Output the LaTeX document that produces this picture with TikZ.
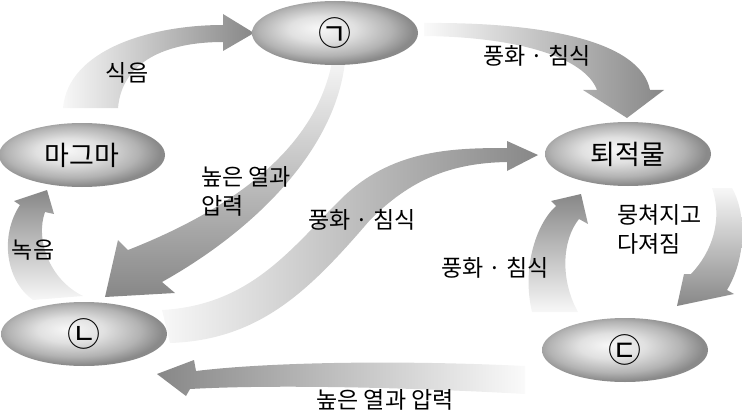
\documentclass[tikz,border=0pt]{standalone}
\usepackage{fontspec}
\setmainfont{Noto Sans CJK KR}
\usepackage{tikz}
\usetikzlibrary{shapes.geometric}
\pgfdeclareradialshading{rockshade}{\pgfpoint{-5bp}{4bp}}{%
  color(0bp)=(black!3); color(10bp)=(black!12); color(20bp)=(black!30); color(26bp)=(black!46); color(50bp)=(black!46)}

\begin{document}
\begin{tikzpicture}[x=1pt,y=-1pt,
    rock/.style={ellipse, shade, shading=rockshade, minimum width=166pt, minimum height=64pt, inner sep=0pt, font=\fontsize{27}{32}\selectfont},
    mark circ/.style={font=\fontsize{33}{36}\selectfont},
    txt/.style={inner sep=0pt, font=\fontsize{23}{29}\selectfont}]
    \useasboundingbox (0,0) rectangle (742,420);
    % arrows
    \shade[left color=black!3, right color=black!47] (63,108) .. controls (68,50) and (150,25) .. (223,25) -- (223,14) -- (254,33) -- (223,51) -- (223,42) .. controls (165,42) and (122,62) .. (118,108) -- cycle;
    \shade[left color=black!2, right color=black!47] (424,23) .. controls (540,22) and (640,40) .. (650,90) -- (664,90) -- (627,118) -- (583,90) -- (597,90) .. controls (585,58) and (520,37) .. (424,36) -- cycle;
    \shade[top color=black!4, bottom color=black!47] (332,62) .. controls (315,150) and (230,210) .. (128,250) -- (118,240) -- (105,297) -- (175,293) -- (162,282) .. controls (255,230) and (335,150) .. (345,62) -- cycle;
    \shade[left color=black!3, right color=black!47] (162,310) .. controls (250,305) and (290,250) .. (340,200) .. controls (390,150) and (450,148) .. (507,148) -- (507,141) -- (538,155) -- (507,171) -- (507,162) .. controls (450,163) and (410,180) .. (370,220) .. controls (310,290) and (260,340) .. (170,343) -- cycle;
    \shade[top color=black!3, bottom color=black!47] (712,188) -- (732,188) .. controls (745,210) and (748,255) .. (727,290) -- (734,294) -- (677,306) -- (684,274) -- (691,274) .. controls (712,252) and (723,220) .. (712,188) -- cycle;
    \shade[bottom color=black!3, top color=black!47] (532,312) .. controls (522,270) and (535,225) .. (556,206) -- (551,201) -- (581,194) -- (588,224) -- (579,219) .. controls (562,240) and (560,280) .. (578,312) -- cycle;
    \shade[bottom color=black!3, top color=black!47] (33,300) .. controls (5,280) and (0,235) .. (20,205) -- (14,201) -- (47,190) -- (54,214) -- (45,212) .. controls (35,240) and (50,280) .. (83,296) -- cycle;
    \shade[left color=black!47, right color=black!2] (525,366) .. controls (400,360) and (270,362) .. (196,371) -- (194,360) -- (157,374) -- (186,396) -- (190,389) .. controls (280,384) and (420,388) .. (525,394) -- cycle;
    % rocks
    \node[rock, mark circ] (rockA) at (335,33) {㉠};
    \node[rock] (magma) at (82,155) {마그마};
    \node[rock] (sed) at (628,154) {퇴적물};
    \node[rock, mark circ] (rockB) at (84,334) {㉡};
    \node[rock, mark circ] (rockC) at (625,350) {㉢};
    % labels
    \node[txt] (melt1) at (127,73) {식음};
    \node[txt] (wea1) at (537,56) {풍화 · 침식};
    \node[txt, anchor=west, align=left] (heat1) at (201,191) {높은 열과\\압력};
    \node[txt] (wea2) at (362,220) {풍화 · 침식};
    \node[txt] (wea3) at (495,268) {풍화 · 침식};
    \node[txt, anchor=west, align=left] (comp) at (617,229) {뭉쳐지고\\다져짐};
    \node[txt] (melt2) at (33,250) {녹음};
    \node[txt] (heat2) at (385,400) {높은 열과 압력};
\end{tikzpicture}
\end{document}
